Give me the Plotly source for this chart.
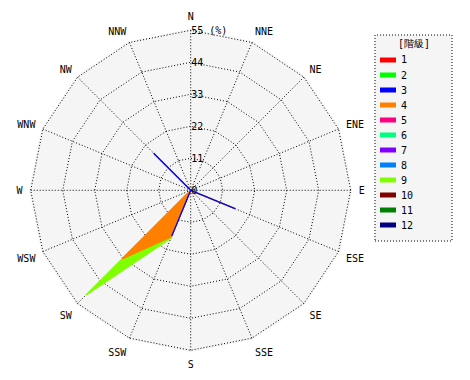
import plotly.graph_objects as go

directions = ["N", "NNE", "NE", "ENE", "E", "ESE", "SE", "SSE",
              "S", "SSW", "SW", "WSW", "W", "WNW", "NW", "NNW"]
class_labels = ["1", "2", "3", "4", "5", "6", "7", "8", "9", "10", "11", "12"]
class_colors = ["#ff0000", "#00ff00", "#0000ff", "#ff8000", "#ff0080", "#00ff80",
                "#8000ff", "#0080ff", "#80ff00", "#800000", "#008000", "#000080"]

# percentage per class and direction (N ... NNW)
c1 = [0, 0, 0, 0, 0, 0, 0, 0, 0, 0, 0, 0, 0, 0, 0, 0]
c2 = [0, 0, 0, 0, 0, 0, 0, 0, 0, 0, 0, 0, 0, 0, 0, 0]
c3 = [0, 0, 0, 0, 0, 16.5, 0, 0, 0, 17.0, 0, 0, 0, 0, 18.0, 0]
c4 = [0, 0, 0, 0, 0, 0, 0, 0, 0, 0.3, 33.3, 0, 0, 0, 0, 0]
c5 = [0, 0, 0, 0, 0, 0, 0, 0, 0, 0, 0, 0, 0, 0, 0, 0]
c6 = [0, 0, 0, 0, 0, 0, 0, 0, 0, 0, 0, 0, 0, 0, 0, 0]
c7 = [0, 0, 0, 0, 0, 0, 0, 0, 0, 0, 0, 0, 0, 0, 0, 0]
c8 = [0, 0, 0, 0, 0, 0, 0, 0, 0, 0, 0, 0, 0, 0, 0, 0]
c9 = [0, 0, 0, 0, 0, 0, 0, 0, 0, 0.5, 17.7, 0, 0, 0, 0, 0]
c10 = [0, 0, 0, 0, 0, 0, 0, 0, 0, 0, 0, 0, 0, 0, 0, 0]
c11 = [0, 0, 0, 0, 0, 0, 0, 0, 0, 0, 0, 0, 0, 0, 0, 0]
c12 = [0, 0, 0, 0, 0, 0, 0, 0, 0, 0, 0, 0, 0, 0, 0, 0]
classes = [c1, c2, c3, c4, c5, c6, c7, c8, c9, c10, c11, c12]

radial_ticks = [0, 11, 22, 33, 44, 55]
radial_ticktext = ["0", "11", "22", "33", "44", "55 (%)"]
legend_title = "[階級]"

FONT = "DejaVu Sans Mono"
W, H = 470, 380
OFF = 8  # page body margin offset

# cumulative stacking
cum = []
run = [0.0] * len(directions)
for vals in classes:
    run = [a + b for a, b in zip(run, vals)]
    cum.append(list(run))

fig = go.Figure()
for i in reversed(range(len(classes))):
    has = any(v > 0 for v in classes[i])
    r = cum[i] + [cum[i][0]]
    th = directions + [directions[0]]
    fig.add_trace(go.Scatterpolar(
        r=r, theta=th, mode="lines",
        fill="toself" if has else "none",
        fillcolor=class_colors[i],
        line=dict(color=class_colors[i], width=1.3 if has else 0),
        name=class_labels[i], showlegend=False, hoverinfo="skip",
    ))

# outer ring (55) radius 160 px; domain slightly larger so the 55 gridline is drawn
R55 = 160.0
RD = 161.6
rmax = radial_ticks[-1] * RD / R55
cx, cy = 190.7 - OFF, 190.3 - OFF
fig.update_layout(
    width=W, height=H,
    margin=dict(l=0, r=0, t=0, b=0),
    paper_bgcolor="white",
    font=dict(family=FONT, size=10, color="black"),
    showlegend=False,
    polar=dict(
        domain=dict(x=[(cx - RD) / W, (cx + RD) / W], y=[1 - (cy + RD) / H, 1 - (cy - RD) / H]),
        bgcolor="#f5f5f5",
        gridshape="linear",
        radialaxis=dict(
            range=[0, rmax], tickvals=radial_ticks, ticktext=radial_ticktext,
            angle=90, tickangle=90, showline=False, ticks="",
            gridcolor="black", griddash="1px,2px", gridwidth=1,
            tickfont=dict(family=FONT, size=10, color="black"),
        ),
        angularaxis=dict(
            type="category", categoryarray=directions,
            direction="clockwise", rotation=90,
            showline=False, ticks="outside", ticklen=4, tickcolor="rgba(0,0,0,0)",
            gridcolor="black", griddash="1px,2px", gridwidth=1,
            tickfont=dict(family=FONT, size=10, color="black"),
        ),
    ),
)

# legend box (drawn manually)
def px(x):
    return (x - OFF) / W

def py(y):
    return 1 - (y - OFF) / H

shapes = [dict(type="rect", xref="paper", yref="paper",
               x0=px(375), x1=px(452), y0=py(241), y1=py(35),
               fillcolor="#f5f5f5", line=dict(color="black", width=1, dash="1px,2px"),
               layer="below")]
annotations = [dict(xref="paper", yref="paper", x=px(414), y=py(44),
                    text=legend_title, showarrow=False, xanchor="center", yanchor="middle",
                    font=dict(family=FONT, size=10, color="black"))]
for i, (lab, col) in enumerate(zip(class_labels, class_colors)):
    yc = 60 + 15 * i
    shapes.append(dict(type="rect", xref="paper", yref="paper",
                       x0=px(380), x1=px(396), y0=py(yc + 2.5), y1=py(yc - 2.5),
                       fillcolor=col, line=dict(width=0)))
    annotations.append(dict(xref="paper", yref="paper", x=px(399), y=py(yc),
                            text=lab, showarrow=False, xanchor="left", yanchor="middle",
                            font=dict(family=FONT, size=10, color="black")))
fig.update_layout(shapes=shapes, annotations=annotations)

fig.write_html("out.html")
